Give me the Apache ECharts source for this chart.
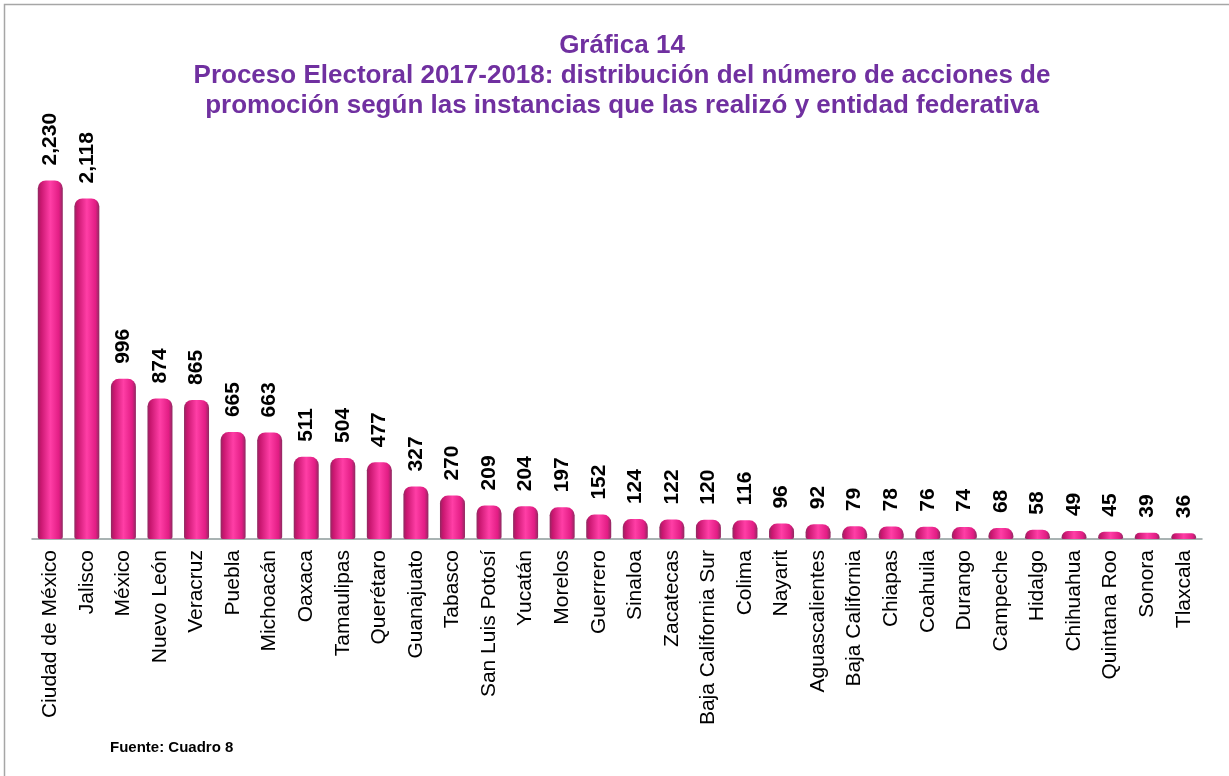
<!DOCTYPE html>
<html>
<head>
<meta charset="utf-8">
<script src="https://cdn.jsdelivr.net/npm/echarts@6/dist/echarts.min.js"></script>
<style>
html, body { margin: 0; padding: 0; background: #fff; }
#main { width: 1229px; height: 776px; }
</style>
</head>
<body>
<div id="main"></div>
<script>
var estados = ['Ciudad de México', 'Jalisco', 'México', 'Nuevo León', 'Veracruz', 'Puebla', 'Michoacán',
    'Oaxaca', 'Tamaulipas', 'Querétaro', 'Guanajuato', 'Tabasco', 'San Luis Potosí', 'Yucatán', 'Morelos',
    'Guerrero', 'Sinaloa', 'Zacatecas', 'Baja California Sur', 'Colima', 'Nayarit', 'Aguascalientes',
    'Baja California', 'Chiapas', 'Coahuila', 'Durango', 'Campeche', 'Hidalgo', 'Chihuahua',
    'Quintana Roo', 'Sonora', 'Tlaxcala'];
var acciones = [2230, 2118, 996, 874, 865, 665, 663, 511, 504, 477, 327, 270, 209, 204, 197,
    152, 124, 122, 120, 116, 96, 92, 79, 78, 76, 74, 68, 58, 49, 45, 39, 36];

var chart = echarts.init(document.getElementById('main'));

var rosa = new echarts.graphic.LinearGradient(0, 0, 1, 0, [
    { offset: 0, color: '#8e2a60' },
    { offset: 0.12, color: '#c8166f' },
    { offset: 0.5, color: '#ff3ea6' },
    { offset: 0.85, color: '#e21d84' },
    { offset: 1, color: '#8e2a60' }
]);

var option = {
    animation: false,
    title: {
        text: 'Gráfica 14\nProceso Electoral 2017-2018: distribución del número de acciones de\npromoción según las instancias que las realizó y entidad federativa',
        left: 617,
        textAlign: 'center',
        top: 26,
        textStyle: {
            fontFamily: 'Liberation Sans',
            fontWeight: 'bold',
            fontSize: 26,
            lineHeight: 30,
            color: '#7030a0'
        }
    },
    graphic: [
        {
            type: 'rect',
            shape: { x: 4.5, y: 4.5, width: 1240, height: 800 },
            style: { fill: 'none', stroke: '#a6a6a6', lineWidth: 1.5 }
        },
        {
            type: 'text',
            left: 110,
            top: 740,
            style: {
                text: 'Fuente: Cuadro 8',
                fontFamily: 'Liberation Sans',
                fontWeight: 'bold',
                fontSize: 15,
                fill: '#000'
            }
        }
    ],
    grid: {
        left: 32,
        right: 27,
        top: 137,
        bottom: 237
    },
    xAxis: {
        type: 'category',
        data: estados,
        axisLine: { lineStyle: { color: '#8d9b9b', width: 1.5 } },
        axisTick: { length: 6, lineStyle: { color: '#8d9b9b' } },
        axisLabel: {
            rotate: 90,
            interval: 0,
            margin: 11,
            fontFamily: 'Liberation Sans',
            fontSize: 21,
            color: '#000'
        }
    },
    yAxis: {
        type: 'value',
        min: 0,
        max: 2500,
        show: false,
        splitLine: { show: false }
    },
    series: [{
        type: 'bar',
        data: acciones,
        barWidth: 25,
        itemStyle: {
            color: rosa,
            borderRadius: [8, 8, 2, 2]
        },
        label: {
            show: true,
            position: 'top',
            rotate: 90,
            align: 'left',
            verticalAlign: 'middle',
            distance: 15,
            fontFamily: 'Liberation Sans',
            fontWeight: 'bold',
            fontSize: 21,
            color: '#000',
            formatter: function (p) {
                return p.value.toLocaleString('en-US');
            }
        }
    }]
};

chart.setOption(option);
</script>
</body>
</html>
